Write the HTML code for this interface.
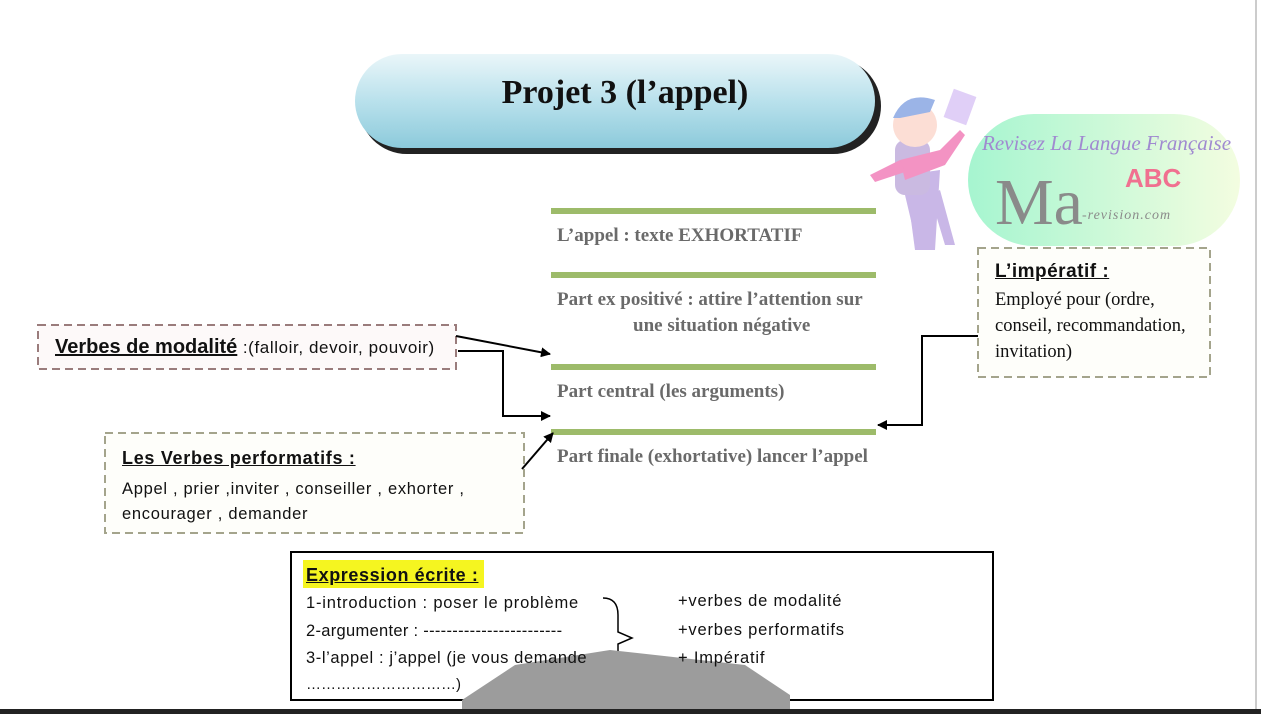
<!DOCTYPE html>
<html><head><meta charset="utf-8"><style>
body{margin:0;width:1261px;height:714px;background:#fff;position:relative;overflow:hidden;font-family:"Liberation Sans",sans-serif}
.a{position:absolute;white-space:nowrap}
.g{font-family:"Liberation Serif",serif;font-weight:bold;color:#6a6a6a;font-size:19px}
.c{font-family:"Liberation Sans",sans-serif;color:#111}
.s{font-family:"Liberation Serif",serif;color:#111;font-size:18.5px}
</style></head><body>
<svg class="a" style="left:0;top:0" width="1261" height="714">
<defs>
<linearGradient id="p" x1="0" y1="0" x2="0" y2="1"><stop offset="0" stop-color="#eaf6f9"/><stop offset=".5" stop-color="#b9e1ec"/><stop offset="1" stop-color="#8ccadb"/></linearGradient>
<linearGradient id="lg" x1="0" y1="0" x2="1" y2="0"><stop offset="0" stop-color="#a6f5d0"/><stop offset="1" stop-color="#f3fde0"/></linearGradient>
<marker id="m" markerWidth="10" markerHeight="10" refX="9" refY="5" orient="auto" markerUnits="userSpaceOnUse"><path d="M0,0 L10,5 L0,10z" fill="#000"/></marker>
</defs>
<rect x="359" y="58" width="522" height="96" rx="48" fill="#222"/>
<rect x="355" y="54" width="520" height="94" rx="47" fill="url(#p)"/>
<rect x="968" y="114" width="272" height="132" rx="66" fill="url(#lg)"/>
<g opacity=".75">
<path d="M905 175 L940 170 L935 250 L915 250z" fill="#b8a0e0"/>
<rect x="895" y="140" width="35" height="55" rx="10" fill="#b9a3d8"/>
<circle cx="915" cy="125" r="22" fill="#fbd3c8"/>
<path d="M893 118 Q905 90 935 100 L930 112 L900 118z" fill="#7a9be0"/>
<path d="M900 160 L940 150 L960 130 L965 135 L945 165 L905 180z" fill="#ef6fb0"/>
<path d="M900 160 L870 175 L875 182 L905 172z" fill="#ef6fb0"/>
<rect x="948" y="92" width="24" height="30" fill="#d6c0f5" transform="rotate(20 960 107)"/>
<path d="M905 195 L918 250 L930 250 L925 195 M930 195 L945 245 L955 245 L940 190" fill="#b8a0e0"/>
</g>
<rect x="551" y="208" width="325" height="6" fill="#9dbb6a"/>
<rect x="551" y="272" width="325" height="6" fill="#9dbb6a"/>
<rect x="551" y="364" width="325" height="6" fill="#9dbb6a"/>
<rect x="551" y="429" width="325" height="6" fill="#9dbb6a"/>
<rect x="38" y="325" width="418" height="44" fill="#fdf9f9" stroke="#9a7c7c" stroke-width="2" stroke-dasharray="8,5"/>
<rect x="105" y="433" width="419" height="100" fill="#fefefa" stroke="#a4a48c" stroke-width="2" stroke-dasharray="8,5"/>
<rect x="978" y="248" width="232" height="129" fill="#fefefa" stroke="#a4a48c" stroke-width="2" stroke-dasharray="8,5"/>
<g stroke="#000" stroke-width="2" fill="none">
<line x1="456" y1="336" x2="550" y2="354" marker-end="url(#m)"/>
<polyline points="458,351 503,351 503,416 550,416" marker-end="url(#m)"/>
<line x1="522" y1="469" x2="553" y2="433" marker-end="url(#m)"/>
<polyline points="978,336 922,336 922,425 878,425" marker-end="url(#m)"/>
</g>
<rect x="291" y="552" width="702" height="148" fill="#fff" stroke="#000" stroke-width="2"/>
<rect x="303" y="560" width="181" height="28" fill="#f5f520"/>
<path d="M603 598 Q618 598 618 615 L618 632 L632 638 L618 644 L618 668 Q618 684 603 684" fill="none" stroke="#000" stroke-width="1.5"/>
<path d="M462 700 L515 665 L610 650 L745 665 L790 695 L790 714 L462 714z" fill="#9c9c9c"/>
<rect x="0" y="709" width="1261" height="5" fill="#222"/>
<rect x="1255" y="0" width="2" height="709" fill="#ccc"/>
</svg>
<div class="a" style="left:355px;top:74px;width:540px;text-align:center;font-family:'Liberation Serif',serif;font-weight:bold;font-size:34px;color:#111">Projet 3 (l’appel)</div>
<div class="a" style="left:982px;top:131px;font-family:'Liberation Serif',serif;font-style:italic;font-size:21px;color:#a08ad0">Revisez La Langue Française</div>
<div class="a" style="left:1125px;top:163px;font-weight:bold;font-size:26px;color:#f07090">ABC</div>
<div class="a" style="left:995px;top:168px;font-family:'Liberation Serif',serif;font-size:66px;color:#8a8a8a;line-height:70px">Ma</div>
<div class="a" style="left:1082px;top:208px;font-family:'Liberation Serif',serif;font-style:italic;font-size:14px;color:#8a8a8a;letter-spacing:1px">-revision.com</div>
<div class="a g" style="left:557px;top:225px">L’appel : texte EXHORTATIF</div>
<div class="a g" style="left:557px;top:289px">Part ex positivé : attire l’attention sur</div>
<div class="a g" style="left:633px;top:315px">une situation négative</div>
<div class="a g" style="left:557px;top:381px">Part central (les arguments)</div>
<div class="a g" style="left:557px;top:446px">Part finale (exhortative) lancer l’appel</div>
<div class="a c" style="left:55px;top:336px;font-size:20px"><b><u>Verbes de modalité</u></b> <span style="font-size:17px;letter-spacing:.6px">:(falloir, devoir, pouvoir)</span></div>
<div class="a c" style="left:122px;top:448px;font-size:18px;letter-spacing:.7px"><b><u>Les Verbes performatifs :</u></b></div>
<div class="a c" style="left:122px;top:480px;font-size:16.5px;letter-spacing:.7px">Appel , prier ,inviter , conseiller , exhorter ,</div>
<div class="a c" style="left:122px;top:505px;font-size:16.5px;letter-spacing:.7px">encourager , demander</div>
<div class="a c" style="left:995px;top:261px;font-size:19px;letter-spacing:.5px"><b><u>L’impératif :</u></b></div>
<div class="a s" style="left:995px;top:290px">Employé pour (ordre,</div>
<div class="a s" style="left:995px;top:316px">conseil, recommandation,</div>
<div class="a s" style="left:995px;top:342px">invitation)</div>
<div class="a c" style="left:306px;top:565px;font-size:18px;letter-spacing:.6px"><b><u>Expression écrite :</u></b></div>
<div class="a c" style="left:306px;top:594px;font-size:16.5px;letter-spacing:.8px">1-introduction : poser le problème</div>
<div class="a c" style="left:306px;top:622px;font-size:16.5px;letter-spacing:.3px">2-argumenter : ------------------------</div>
<div class="a c" style="left:306px;top:649px;font-size:16.5px;letter-spacing:.6px">3-l’appel : j’appel (je vous demande</div>
<div class="a c" style="left:306px;top:676px;font-size:15px">…………………………)</div>
<div class="a c" style="left:678px;top:592px;font-size:16.5px;letter-spacing:.8px">+verbes de modalité</div>
<div class="a c" style="left:678px;top:621px;font-size:16.5px;letter-spacing:.8px">+verbes performatifs</div>
<div class="a c" style="left:678px;top:649px;font-size:16.5px;letter-spacing:.8px">+ Impératif</div>
</body></html>
